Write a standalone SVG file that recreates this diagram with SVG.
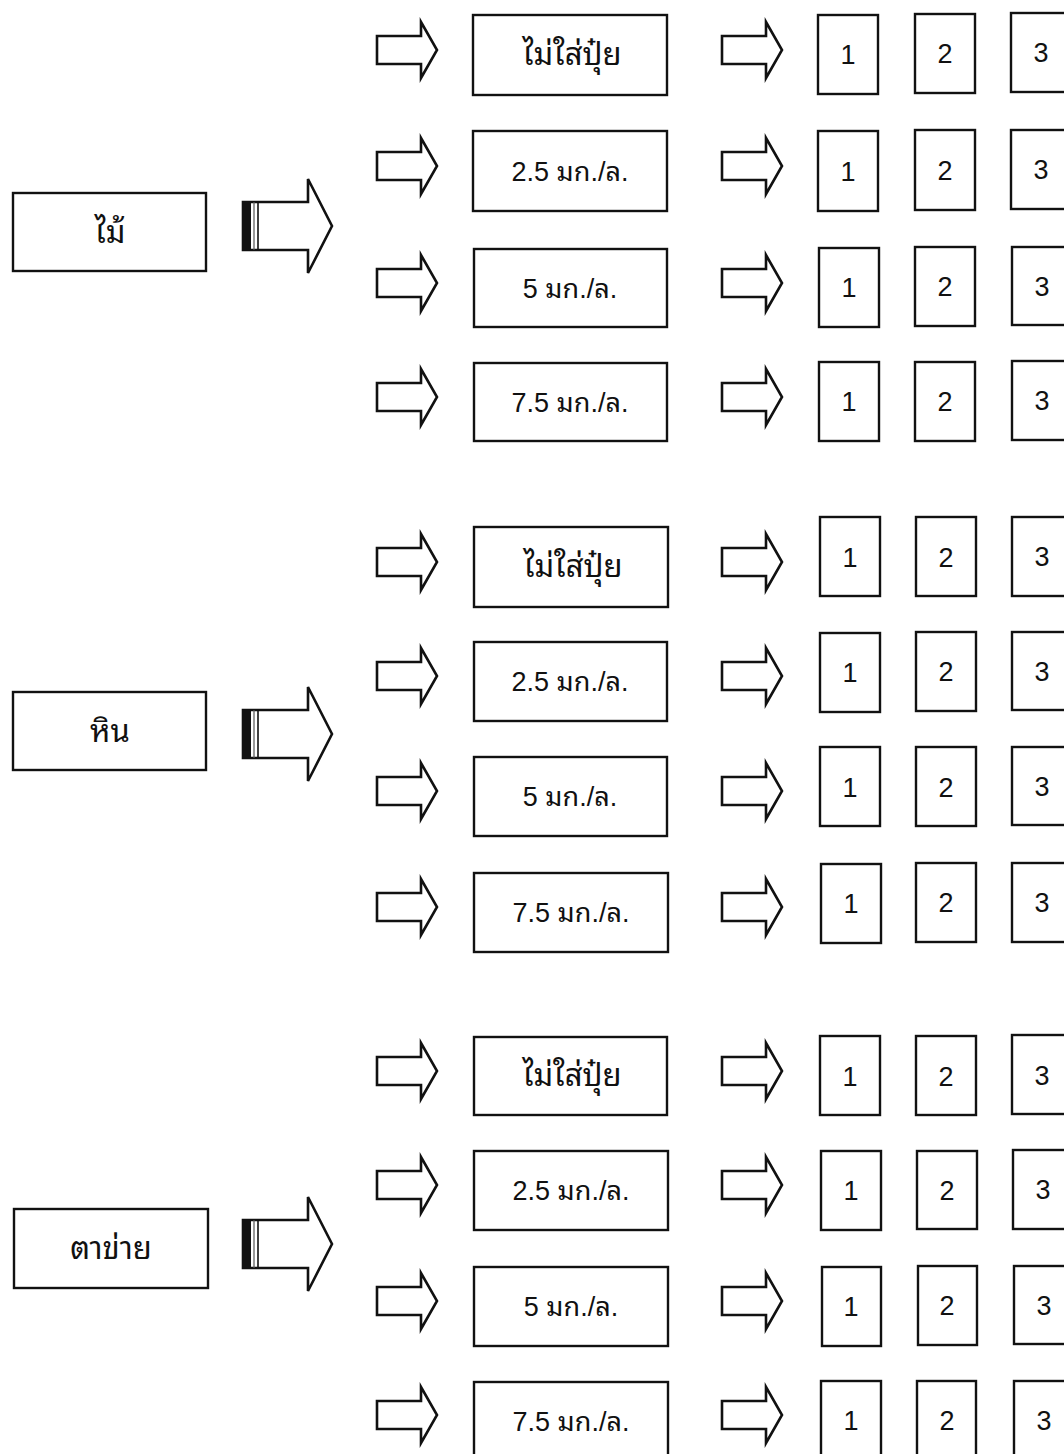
<svg xmlns="http://www.w3.org/2000/svg" width="1064" height="1454" viewBox="0 0 1064 1454">
<style>
.box{fill:#fff;stroke:#111;stroke-width:2.4}
.arr{fill:#fff;stroke:#111;stroke-width:2.6;stroke-linejoin:miter}
.t{font-family:"Liberation Sans","Noto Sans Thai Looped","DejaVu Sans",sans-serif;font-size:27px;fill:#111;text-anchor:middle}
.th{font-family:"Noto Sans Thai Looped","Liberation Sans",sans-serif;font-size:31px;fill:#111;text-anchor:middle}
.n{font-family:"Liberation Sans",Arial,sans-serif;font-size:27px;fill:#111;text-anchor:middle}
</style>
<defs>
<path id="sa" class="arr" d="M0,-14 H44 V-28 L60,0 L44,28 V14 H0 Z"/>
<g id="ba">
<path class="arr" d="M0,-24 H65 V-47 L89,0 L65,47 V24 H0 Z"/>
<rect x="0" y="-24" width="8" height="48" fill="#111"/>
<line x1="11" y1="-24" x2="11" y2="24" stroke="#555" stroke-width="1.2"/>
<line x1="15" y1="-24" x2="15" y2="24" stroke="#111" stroke-width="1.6"/>
</g>
</defs>
<rect width="1064" height="1454" fill="#fff"/>

<g id="connectors">
<use href="#ba" x="243" y="226"/>
<use href="#ba" x="243" y="734"/>
<use href="#ba" x="243" y="1244"/>
<use href="#sa" x="377" y="50"/><use href="#sa" x="722" y="50"/>
<use href="#sa" x="377" y="166"/><use href="#sa" x="722" y="166"/>
<use href="#sa" x="377" y="283"/><use href="#sa" x="722" y="283"/>
<use href="#sa" x="377" y="397"/><use href="#sa" x="722" y="397"/>
<use href="#sa" x="377" y="562"/><use href="#sa" x="722" y="562"/>
<use href="#sa" x="377" y="676"/><use href="#sa" x="722" y="676"/>
<use href="#sa" x="377" y="791"/><use href="#sa" x="722" y="791"/>
<use href="#sa" x="377" y="907"/><use href="#sa" x="722" y="907"/>
<use href="#sa" x="377" y="1071"/><use href="#sa" x="722" y="1071"/>
<use href="#sa" x="377" y="1185"/><use href="#sa" x="722" y="1185"/>
<use href="#sa" x="377" y="1301"/><use href="#sa" x="722" y="1301"/>
<use href="#sa" x="377" y="1415"/><use href="#sa" x="722" y="1415"/>
</g>

<g id="wood"><rect class="box" x="13" y="193" width="193" height="78"/><text class="th" x="110" y="243">ไม้</text></g>
<g id="stone"><rect class="box" x="13" y="692" width="193" height="78"/><text class="th" x="110" y="742">หิน</text></g>
<g id="net"><rect class="box" x="14" y="1209" width="194" height="79"/><text class="th" x="111" y="1259">ตาข่าย</text></g>

<g id="g1r1"><rect class="box" x="473" y="15" width="194" height="80"/><text class="th" x="572" y="65">ไม่ใส่ปุ๋ย</text></g>
<g id="g1r2"><rect class="box" x="473" y="131" width="194" height="80"/><text class="t" x="570" y="181">2.5 มก./ล.</text></g>
<g id="g1r3"><rect class="box" x="474" y="249" width="193" height="78"/><text class="t" x="570" y="298">5 มก./ล.</text></g>
<g id="g1r4"><rect class="box" x="474" y="363" width="193" height="78"/><text class="t" x="570" y="412">7.5 มก./ล.</text></g>
<g id="g2r1"><rect class="box" x="474" y="527" width="194" height="80"/><text class="th" x="573" y="577">ไม่ใส่ปุ๋ย</text></g>
<g id="g2r2"><rect class="box" x="474" y="642" width="193" height="79"/><text class="t" x="570" y="691">2.5 มก./ล.</text></g>
<g id="g2r3"><rect class="box" x="474" y="757" width="193" height="79"/><text class="t" x="570" y="806">5 มก./ล.</text></g>
<g id="g2r4"><rect class="box" x="474" y="873" width="194" height="79"/><text class="t" x="571" y="922">7.5 มก./ล.</text></g>
<g id="g3r1"><rect class="box" x="474" y="1037" width="193" height="78"/><text class="th" x="572" y="1086">ไม่ใส่ปุ๋ย</text></g>
<g id="g3r2"><rect class="box" x="474" y="1151" width="194" height="79"/><text class="t" x="571" y="1200">2.5 มก./ล.</text></g>
<g id="g3r3"><rect class="box" x="474" y="1267" width="194" height="79"/><text class="t" x="571" y="1316">5 มก./ล.</text></g>
<g id="g3r4"><rect class="box" x="474" y="1382" width="194" height="79"/><text class="t" x="571" y="1431">7.5 มก./ล.</text></g>

<g id="reps">
<g id="g1r1n"><rect class="box" x="818" y="15" width="60" height="79"/><text class="n" x="848" y="64">1</text><rect class="box" x="915" y="14" width="60" height="79"/><text class="n" x="945" y="63">2</text><rect class="box" x="1011" y="13" width="60" height="79"/><text class="n" x="1041" y="62">3</text></g>
<g id="g1r2n"><rect class="box" x="818" y="131" width="60" height="80"/><text class="n" x="848" y="181">1</text><rect class="box" x="915" y="130" width="60" height="80"/><text class="n" x="945" y="180">2</text><rect class="box" x="1011" y="130" width="60" height="79"/><text class="n" x="1041" y="179">3</text></g>
<g id="g1r3n"><rect class="box" x="819" y="248" width="60" height="79"/><text class="n" x="849" y="297">1</text><rect class="box" x="915" y="247" width="60" height="79"/><text class="n" x="945" y="296">2</text><rect class="box" x="1012" y="247" width="60" height="78"/><text class="n" x="1042" y="296">3</text></g>
<g id="g1r4n"><rect class="box" x="819" y="362" width="60" height="79"/><text class="n" x="849" y="411">1</text><rect class="box" x="915" y="362" width="60" height="79"/><text class="n" x="945" y="411">2</text><rect class="box" x="1012" y="361" width="60" height="79"/><text class="n" x="1042" y="410">3</text></g>
<g id="g2r1n"><rect class="box" x="820" y="517" width="60" height="79"/><text class="n" x="850" y="567">1</text><rect class="box" x="916" y="517" width="60" height="79"/><text class="n" x="946" y="567">2</text><rect class="box" x="1012" y="517" width="60" height="79"/><text class="n" x="1042" y="566">3</text></g>
<g id="g2r2n"><rect class="box" x="820" y="633" width="60" height="79"/><text class="n" x="850" y="682">1</text><rect class="box" x="916" y="632" width="60" height="79"/><text class="n" x="946" y="681">2</text><rect class="box" x="1012" y="632" width="60" height="78"/><text class="n" x="1042" y="681">3</text></g>
<g id="g2r3n"><rect class="box" x="820" y="747" width="60" height="79"/><text class="n" x="850" y="797">1</text><rect class="box" x="916" y="747" width="60" height="79"/><text class="n" x="946" y="797">2</text><rect class="box" x="1012" y="747" width="60" height="78"/><text class="n" x="1042" y="796">3</text></g>
<g id="g2r4n"><rect class="box" x="821" y="864" width="60" height="79"/><text class="n" x="851" y="913">1</text><rect class="box" x="916" y="863" width="60" height="79"/><text class="n" x="946" y="912">2</text><rect class="box" x="1012" y="863" width="60" height="79"/><text class="n" x="1042" y="912">3</text></g>
<g id="g3r1n"><rect class="box" x="820" y="1036" width="60" height="79"/><text class="n" x="850" y="1086">1</text><rect class="box" x="916" y="1036" width="60" height="79"/><text class="n" x="946" y="1086">2</text><rect class="box" x="1012" y="1035" width="60" height="79"/><text class="n" x="1042" y="1085">3</text></g>
<g id="g3r2n"><rect class="box" x="821" y="1151" width="60" height="79"/><text class="n" x="851" y="1200">1</text><rect class="box" x="917" y="1151" width="60" height="78"/><text class="n" x="947" y="1200">2</text><rect class="box" x="1013" y="1150" width="60" height="79"/><text class="n" x="1043" y="1199">3</text></g>
<g id="g3r3n"><rect class="box" x="822" y="1267" width="59" height="79"/><text class="n" x="851" y="1316">1</text><rect class="box" x="918" y="1266" width="59" height="79"/><text class="n" x="947" y="1315">2</text><rect class="box" x="1014" y="1266" width="60" height="78"/><text class="n" x="1044" y="1315">3</text></g>
<g id="g3r4n"><rect class="box" x="821" y="1381" width="60" height="79"/><text class="n" x="851" y="1430">1</text><rect class="box" x="917" y="1381" width="59" height="79"/><text class="n" x="947" y="1430">2</text><rect class="box" x="1014" y="1381" width="60" height="79"/><text class="n" x="1044" y="1430">3</text></g>
</g>
</svg>
